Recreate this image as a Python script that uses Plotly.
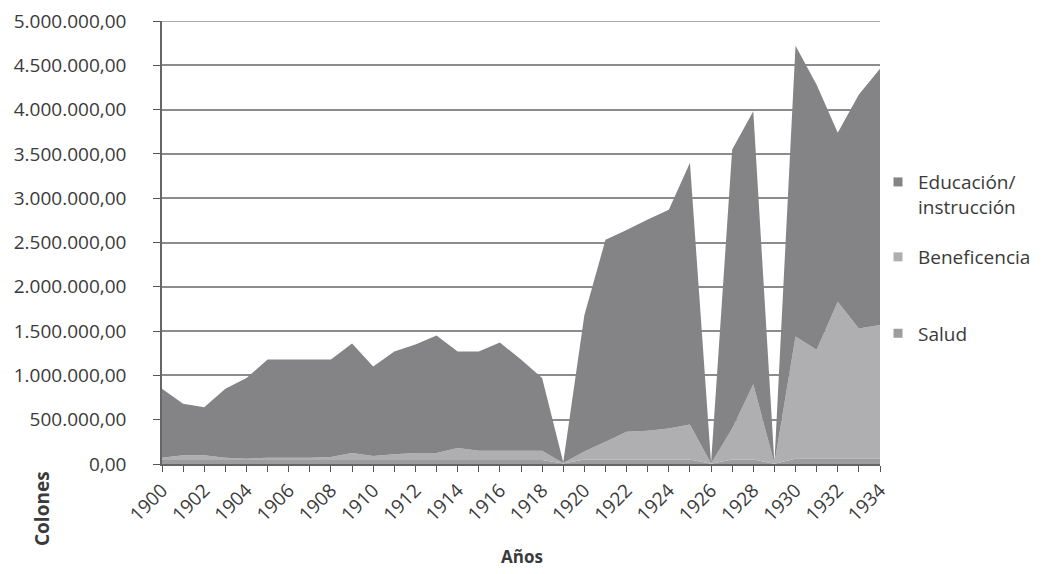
import plotly.graph_objects as go

years = list(range(1900, 1935))

salud = [45000] * 19 + [5000] + [50000] * 6 + [3000] + [50000] * 2 + [3000] + [60000] * 5

beneficencia = [25000, 55000, 55000, 25000, 15000, 25000, 25000, 25000, 35000, 80000,
                45000, 65000, 80000, 80000, 135000, 105000, 105000, 105000, 105000, 5000,
                90000, 200000, 315000, 325000, 350000, 395000, 2000, 350000, 850000, 2000,
                1380000, 1230000, 1770000, 1470000, 1510000]

educacion = [780000, 580000, 540000, 780000, 910000, 1110000, 1110000, 1110000, 1100000, 1235000,
             1010000, 1160000, 1225000, 1325000, 1090000, 1120000, 1220000, 1030000, 820000, 10000,
             1540000, 2280000, 2275000, 2385000, 2470000, 2955000, 5000, 3150000, 3080000, 5000,
             3280000, 2990000, 1910000, 2640000, 2890000]

names = ["Salud", "Beneficencia", "Educación/<br>instrucción"]
colors = ["#9d9d9f", "#afafb1", "#848486"]
legend_ids = ["legend3", "legend2", "legend"]
font_family = "Open Sans, Noto Sans, sans-serif"
text_color = "#3a3a3a"
grid_color = "#8c8c8c"
y_max = 5000000

# page body has an 8px default margin; compensate so the plot lands where the reference has it
OFF = 8
BOTTOM_PX = 464          # screen y of the x axis
TOP_PX = 21              # screen y of the top gridline (leaves room for its label)
L, T, R, B = 162 - OFF, TOP_PX - OFF, 170, 110
PW, PH = 718, BOTTOM_PX - TOP_PX


def py(px):
    """paper y for a screen pixel row"""
    return (BOTTOM_PX - px) / PH


fig = go.Figure()
for name, vals, col in zip(names, [salud, beneficencia, educacion], colors):
    fig.add_trace(go.Scatter(
        x=years, y=vals, name=name, stackgroup="one", mode="none",
        fillcolor=col, line=dict(width=0), showlegend=False,
    ))
# legend entries (small square swatches)
for name, col, lg in zip(names, colors, legend_ids):
    fig.add_trace(go.Scatter(
        x=[None], y=[None], name=name, mode="markers",
        marker=dict(symbol="square", size=9, color=col), legend=lg, showlegend=True,
    ))

legend_common = dict(font=dict(family=font_family, size=19, color=text_color),
                     bgcolor="rgba(0,0,0,0)", xanchor="left", x=(878 - 162) / PW,
                     itemwidth=30, valign="top")
fig.update_layout(
    width=L + PW + R, height=T + PH + B,
    margin=dict(l=L, r=R, t=T, b=B, autoexpand=False),
    paper_bgcolor="white", plot_bgcolor="white",
    separators=",.",
    showlegend=True,
    font=dict(family=font_family, size=19, color=text_color),
    legend=dict(**legend_common, y=py(194.6), yanchor="middle"),
    legend2=dict(**legend_common, y=py(257.0), yanchor="middle"),
    legend3=dict(**legend_common, y=py(333.3), yanchor="middle"),
    xaxis=dict(range=[1900, 1934], tickmode="linear", tick0=1900, dtick=2,
               tickangle=-45, ticks="outside", ticklen=6, tickcolor="#555",
               showgrid=False, showline=True, linecolor="#666", linewidth=1.5,
               minor=dict(ticks="outside", dtick=1, ticklen=6, tickcolor="#555"),
               tickfont=dict(size=19, color=text_color), zeroline=False, automargin=False),
    yaxis=dict(range=[0, y_max], tickmode="linear", tick0=0, dtick=500000,
               tickformat=",.2f", ticks="outside", ticklen=7, tickcolor="#555",
               ticklabelstandoff=23, ticklabeloverflow="allow",
               showgrid=True, gridcolor=grid_color, gridwidth=1.5,
               showline=True, linecolor="#666", linewidth=1.5, zeroline=False,
               tickfont=dict(size=19, color=text_color), automargin=False),
    shapes=[dict(type="line", xref="paper", yref="y", x0=0, x1=1, y0=y_max, y1=y_max,
                 line=dict(color=grid_color, width=1.5), layer="below")],
    annotations=[
        dict(text="<b>Colones</b>", textangle=-90, xref="paper", yref="paper",
             x=(42 - 162) / PW, y=py(509), xanchor="center", yanchor="middle",
             showarrow=False, font=dict(size=19, color=text_color)),
        dict(text="<b>Años</b>", xref="paper", yref="paper",
             x=(522 - 162) / PW, y=py(556), xanchor="center", yanchor="middle",
             showarrow=False, font=dict(size=17, color=text_color)),
    ],
)

fig.write_html("out.html")
